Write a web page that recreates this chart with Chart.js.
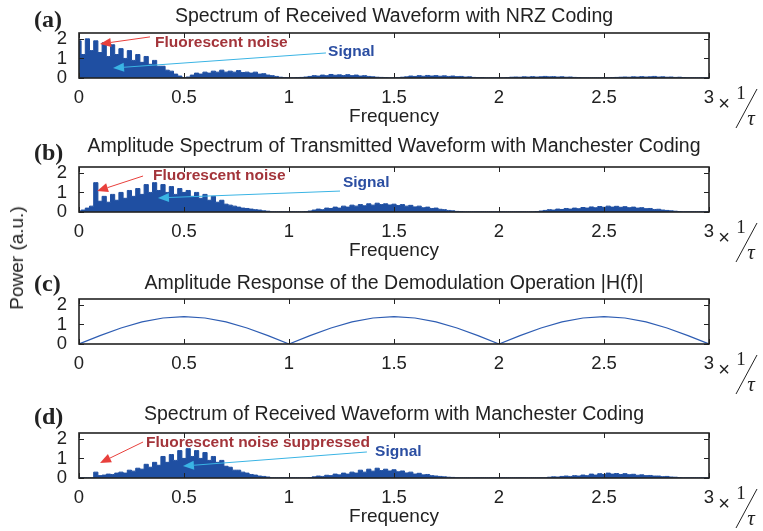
<!DOCTYPE html>
<html>
<head>
<meta charset="utf-8">
<script src="https://cdn.jsdelivr.net/npm/chart.js@4"></script>
<style>
  body { margin: 0; background: #fff; }
  #wrap { position: relative; width: 763px; height: 531px; overflow: hidden; }
  canvas { position: absolute; left: 0; }
  #ylab { position: absolute; left: 17px; top: 258px; transform: translate(-50%, -50%) rotate(-90deg);
          font: 19px "Liberation Sans", Arial, sans-serif; color: #222; white-space: nowrap; }
</style>
</head>
<body>
<div id="wrap">
  <canvas id="pa" width="763" height="128" style="top:0px"></canvas>
  <canvas id="pb" width="763" height="128" style="top:134px"></canvas>
  <canvas id="pc" width="763" height="128" style="top:266px"></canvas>
  <canvas id="pd" width="763" height="128" style="top:400px"></canvas>
  <div id="ylab">Power (a.u.)</div>
</div>
<script>
// frequency grid (x 1/tau)
var freq = Array.from({length: 151}, (_, i) => +(i * 0.02).toFixed(2));
var freqH = Array.from({length: 31}, (_, i) => +(i * 0.1).toFixed(1));
var xTicks = [0, 0.5, 1, 1.5, 2, 2.5, 3];
var yTicks = [0, 1, 2];

// (a) received, NRZ
var nrzSpectrum = [
  1.9, 1.2, 2.0, 1.4, 1.9, 1.3,
  1.8, 1.1, 1.7, 1.2, 1.5,
  1.0, 1.4, 0.9, 1.2, 0.8,
  1.1, 0.7, 0.9, 0.6, 0.6,
  0.4, 0.35, 0.2, 0.1, 0.02,
  0.05, 0.15, 0.25, 0.2, 0.3,
  0.25, 0.35, 0.3, 0.4, 0.3,
  0.35, 0.3, 0.38, 0.28, 0.3,
  0.25, 0.3, 0.2, 0.22, 0.15,
  0.12, 0.08, 0.04, 0.02, 0.01,
  0.01, 0.02, 0.03, 0.05, 0.08,
  0.12, 0.1, 0.15, 0.12, 0.18,
  0.14, 0.16, 0.13, 0.17, 0.12,
  0.15, 0.1, 0.12, 0.08, 0.06,
  0.04, 0.03, 0.02, 0.01, 0.01,
  0.02, 0.04, 0.06, 0.1, 0.08,
  0.12, 0.09, 0.13, 0.1, 0.12,
  0.09, 0.11, 0.08, 0.1, 0.07,
  0.08, 0.05, 0.06, 0.03, 0.02,
  0.02, 0.01, 0.01, 0.01, 0.01,
  0.01, 0.02, 0.04, 0.05, 0.04,
  0.06, 0.05, 0.07, 0.05, 0.06,
  0.08, 0.06, 0.07, 0.05, 0.06,
  0.04, 0.05, 0.03, 0.02, 0.01,
  0.01, 0.01, 0.01, 0.01, 0.01,
  0.01, 0.02, 0.03, 0.04, 0.05,
  0.04, 0.06, 0.05, 0.07, 0.05,
  0.06, 0.08, 0.05, 0.06, 0.04,
  0.05, 0.03, 0.04, 0.02, 0.01,
  0.01, 0.01, 0.01, 0.01, 0.01
];

// (b) transmitted, Manchester
var manTxSpectrum = [
  0.05, 0.1, 0.2, 0.3, 1.5, 0.55,
  0.8, 0.5, 0.9, 0.6, 1.0,
  0.7, 1.1, 0.8, 1.2, 0.9,
  1.4, 1.0, 1.5, 1.1, 1.4,
  1.0, 1.3, 0.9, 1.2, 1.0,
  1.1, 0.8, 1.0, 0.7, 0.9,
  0.6, 0.8, 0.5, 0.6, 0.4,
  0.35, 0.3, 0.25, 0.2, 0.18,
  0.15, 0.12, 0.1, 0.06, 0.04,
  0.01, 0.01, 0.01, 0.01, 0.01,
  0.01, 0.01, 0.01, 0.02, 0.05,
  0.1, 0.15, 0.12, 0.2, 0.18,
  0.25, 0.2, 0.3, 0.25, 0.35,
  0.3, 0.38, 0.32, 0.42, 0.35,
  0.45, 0.38, 0.42, 0.36, 0.4,
  0.33, 0.38, 0.3, 0.34, 0.26,
  0.3, 0.22, 0.25, 0.18, 0.2,
  0.14, 0.12, 0.08, 0.06, 0.03,
  0.02, 0.01, 0.01, 0.01, 0.01,
  0.01, 0.01, 0.01, 0.01, 0.01,
  0.01, 0.01, 0.01, 0.01, 0.01,
  0.01, 0.01, 0.01, 0.02, 0.05,
  0.08, 0.12, 0.1, 0.15, 0.13,
  0.18, 0.15, 0.2, 0.17, 0.23,
  0.2, 0.26, 0.22, 0.28, 0.24,
  0.3, 0.25, 0.29, 0.24, 0.27,
  0.22, 0.25, 0.2, 0.22, 0.17,
  0.18, 0.13, 0.14, 0.1, 0.08,
  0.06, 0.04, 0.02, 0.01, 0.01,
  0.01, 0.01, 0.01, 0.01, 0.01
];

// (c) |H(f)|
var demodResponse = [
  0, 0.43, 0.82, 1.13, 1.33, 1.4, 1.33, 1.13, 0.82, 0.43,
  0, 0.43, 0.82, 1.13, 1.33, 1.4, 1.33, 1.13, 0.82, 0.43,
  0, 0.43, 0.82, 1.13, 1.33, 1.4, 1.33, 1.13, 0.82, 0.43,
  0
];

// (d) received, Manchester
var manRxSpectrum = [
  0.01, 0.01, 0.01, 0.01, 0.3, 0.12,
  0.15, 0.2, 0.18, 0.25, 0.3,
  0.25, 0.4, 0.35, 0.5, 0.45,
  0.7, 0.55, 0.8, 0.65, 1.1,
  0.8, 1.2, 0.9, 1.4, 1.0,
  1.5, 1.1, 1.4, 1.0, 1.3,
  0.9, 1.1, 0.8, 0.9, 0.6,
  0.55, 0.4, 0.4, 0.3, 0.25,
  0.18, 0.15, 0.1, 0.08, 0.05,
  0.01, 0.01, 0.01, 0.01, 0.01,
  0.01, 0.01, 0.01, 0.01, 0.02,
  0.06, 0.1, 0.08, 0.14, 0.12,
  0.2, 0.16, 0.25, 0.2, 0.3,
  0.25, 0.4, 0.3, 0.45, 0.35,
  0.5, 0.38, 0.45, 0.36, 0.42,
  0.32, 0.36, 0.26, 0.3, 0.2,
  0.24, 0.16, 0.18, 0.12, 0.1,
  0.08, 0.06, 0.04, 0.03, 0.01,
  0.01, 0.01, 0.01, 0.01, 0.01,
  0.01, 0.01, 0.01, 0.01, 0.01,
  0.01, 0.01, 0.01, 0.01, 0.01,
  0.01, 0.01, 0.01, 0.01, 0.01,
  0.01, 0.04, 0.06, 0.05, 0.08,
  0.1, 0.08, 0.12, 0.1, 0.15,
  0.12, 0.2, 0.15, 0.22, 0.18,
  0.25, 0.2, 0.23, 0.18, 0.22,
  0.17, 0.19, 0.14, 0.16, 0.12,
  0.13, 0.1, 0.1, 0.07, 0.08,
  0.05, 0.04, 0.02, 0.01, 0.01,
  0.01, 0.01, 0.01, 0.01, 0.01
];

var RED_TXT = '#a3343a', BLUE_TXT = '#2b4ea2', RED_ARR = '#e8403c', CYAN_ARR = '#3ab4e4';
var SANS = '"Liberation Sans", Arial, sans-serif';
var SERIF = '"Liberation Serif", "Times New Roman", serif';

var panels = [
  { id: 'pa', tag: '(a)', tagDy: -12, title: 'Spectrum of Received Waveform with NRZ Coding', titleDy: -16,
    x: freq, y: nrzSpectrum, fill: true, xTitle: true,
    notes: [
      { t: 'Fluorescent noise', x: 0.362, y: 1.79, c: RED_TXT },
      { t: 'Signal', x: 1.186, y: 1.33, c: BLUE_TXT }
    ],
    arrows: [
      { x1: 0.338, y1: 2.10, x2: 0.10, y2: 1.74, c: RED_ARR },
      { x1: 1.176, y1: 1.28, x2: 0.162, y2: 0.51, c: CYAN_ARR }
    ] },
  { id: 'pb', tag: '(b)', tagDy: -13, title: 'Amplitude Spectrum of Transmitted Waveform with Manchester Coding', titleDy: -20,
    x: freq, y: manTxSpectrum, fill: true, xTitle: true,
    notes: [
      { t: 'Fluorescent noise', x: 0.352, y: 1.84, c: RED_TXT },
      { t: 'Signal', x: 1.257, y: 1.48, c: BLUE_TXT }
    ],
    arrows: [
      { x1: 0.305, y1: 1.84, x2: 0.086, y2: 1.07, c: RED_ARR },
      { x1: 1.243, y1: 1.07, x2: 0.376, y2: 0.72, c: CYAN_ARR }
    ] },
  { id: 'pc', tag: '(c)', tagDy: -14, title: 'Amplitude Response of the Demodulation Operation |H(f)|', titleDy: -15,
    x: freqH, y: demodResponse, fill: false, xTitle: false, notes: [], arrows: [] },
  { id: 'pd', tag: '(d)', tagDy: -15, title: 'Spectrum of Received Waveform with Manchester Coding', titleDy: -18,
    x: freq, y: manRxSpectrum, fill: true, xTitle: true,
    notes: [
      { t: 'Fluorescent noise suppressed', x: 0.319, y: 1.79, c: RED_TXT },
      { t: 'Signal', x: 1.41, y: 1.33, c: BLUE_TXT }
    ],
    arrows: [
      { x1: 0.305, y1: 1.84, x2: 0.10, y2: 0.77, c: RED_ARR },
      { x1: 1.371, y1: 1.33, x2: 0.495, y2: 0.61, c: CYAN_ARR }
    ] }
];

function arrow(ctx, x1, y1, x2, y2, color) {
  var a = Math.atan2(y2 - y1, x2 - x1), L = 11, W = 4.5;
  ctx.strokeStyle = color; ctx.fillStyle = color; ctx.lineWidth = 1;
  ctx.beginPath(); ctx.moveTo(x1, y1);
  ctx.lineTo(x2 - L * Math.cos(a), y2 - L * Math.sin(a)); ctx.stroke();
  ctx.beginPath(); ctx.moveTo(x2, y2);
  ctx.lineTo(x2 - L * Math.cos(a) + W * Math.sin(a), y2 - L * Math.sin(a) - W * Math.cos(a));
  ctx.lineTo(x2 - L * Math.cos(a) - W * Math.sin(a), y2 - L * Math.sin(a) + W * Math.cos(a));
  ctx.closePath(); ctx.fill();
}

panels.forEach(function (p) {
  var deco = {
    id: 'deco' + p.id,
    afterDraw: function (chart) {
      var ctx = chart.ctx, a = chart.chartArea, xs = chart.scales.x, ys = chart.scales.y;
      ctx.save();
      // ticks inside
      ctx.strokeStyle = '#222'; ctx.lineWidth = 1;
      xTicks.forEach(function (t) {
        var px = Math.round(xs.getPixelForValue(t)) + 0.5;
        ctx.beginPath(); ctx.moveTo(px, a.top); ctx.lineTo(px, a.top + 5);
        ctx.moveTo(px, a.bottom); ctx.lineTo(px, a.bottom - 5); ctx.stroke();
      });
      yTicks.forEach(function (t) {
        var py = Math.round(ys.getPixelForValue(t)) + 0.5;
        ctx.beginPath(); ctx.moveTo(a.left, py); ctx.lineTo(a.left + 5, py);
        ctx.moveTo(a.right, py); ctx.lineTo(a.right - 5, py); ctx.stroke();
      });
      // box
      ctx.lineWidth = 1.6;
      ctx.strokeRect(a.left, a.top, a.right - a.left, a.bottom - a.top);
      // arrows and notes
      p.arrows.forEach(function (r) {
        arrow(ctx, xs.getPixelForValue(r.x1), ys.getPixelForValue(r.y1),
              xs.getPixelForValue(r.x2), ys.getPixelForValue(r.y2), r.c);
      });
      ctx.font = 'bold 15.5px ' + SANS; ctx.textBaseline = 'middle'; ctx.textAlign = 'left';
      p.notes.forEach(function (n) {
        ctx.fillStyle = n.c;
        ctx.fillText(n.t, xs.getPixelForValue(n.x), ys.getPixelForValue(n.y));
      });
      // title, tag
      var cx = (a.left + a.right) / 2;
      ctx.fillStyle = '#222'; ctx.textAlign = 'center';
      ctx.font = '19.5px ' + SANS;
      ctx.fillText(p.title, cx, a.top + p.titleDy);
      ctx.font = 'bold 24px ' + SERIF; ctx.textAlign = 'left';
      ctx.fillText(p.tag, 34, a.top + p.tagDy);
      if (p.xTitle) {
        ctx.font = '19px ' + SANS; ctx.textAlign = 'center';
        ctx.fillText('Frequency', cx, a.bottom + 39);
      }
      // x 1/tau
      var b = a.bottom;
      ctx.textAlign = 'center';
      ctx.font = '20px ' + SANS; ctx.fillText('\u00d7', 724, b + 26);
      ctx.font = '19px ' + SERIF; ctx.fillText('1', 741, b + 16);
      ctx.font = 'italic 21px ' + SERIF; ctx.fillText('\u03c4', 751, b + 41);
      ctx.lineWidth = 1; ctx.strokeStyle = '#222';
      ctx.beginPath(); ctx.moveTo(757, b + 11); ctx.lineTo(736, b + 50); ctx.stroke();
      ctx.restore();
    }
  };

  new Chart(document.getElementById(p.id), {
    type: 'line',
    data: {
      datasets: [{
        data: p.x.map(function (f, i) { return { x: f, y: p.y[i] }; }),
        borderColor: p.fill ? '#1f4fa2' : '#2e5db3',
        backgroundColor: '#1f4fa2',
        borderWidth: p.fill ? 1 : 1.2,
        fill: p.fill ? 'origin' : false,
        stepped: p.fill ? 'middle' : false,
        pointRadius: 0,
        tension: 0
      }]
    },
    options: {
      responsive: false,
      animation: false,
      devicePixelRatio: 1,
      layout: { padding: { top: 33, right: 54, left: 0, bottom: 0 } },
      plugins: { legend: { display: false }, tooltip: { enabled: false } },
      scales: {
        x: {
          type: 'linear', min: 0, max: 3,
          grid: { display: false }, border: { display: false },
          afterBuildTicks: function (s) { s.ticks = xTicks.map(function (v) { return { value: v }; }); },
          ticks: { color: '#222', font: { family: SANS, size: 18.5 }, padding: 1, maxRotation: 0, autoSkip: false,
                   callback: function (v) { return String(v); } },
          afterFit: function (s) { s.height = 50; }
        },
        y: {
          min: 0, max: 2.3,
          grid: { display: false }, border: { display: false },
          afterBuildTicks: function (s) { s.ticks = yTicks.map(function (v) { return { value: v }; }); },
          ticks: { color: '#222', font: { family: SANS, size: 18.5 }, padding: 4, autoSkip: false,
                   callback: function (v) { return String(v); } },
          afterFit: function (s) { s.width = 79; }
        }
      }
    },
    plugins: [deco]
  });
});
</script>
</body>
</html>
